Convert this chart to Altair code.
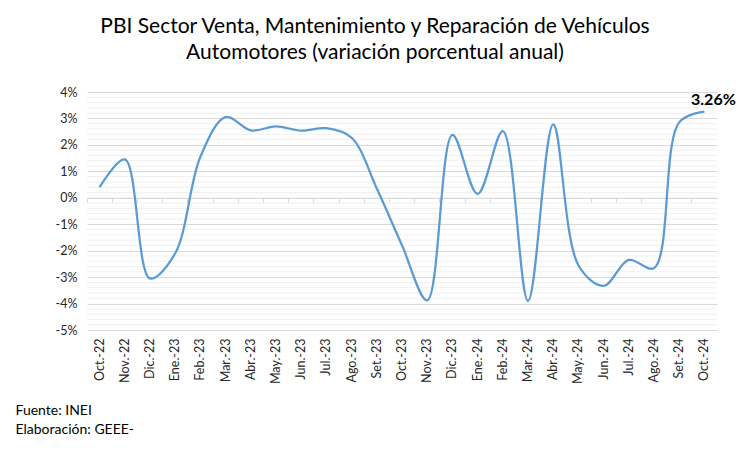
import altair as alt
import pandas as pd

months = ["Oct.-22", "Nov.-22", "Dic.-22", "Ene.-23", "Feb.-23", "Mar.-23", "Abr.-23",
          "May.-23", "Jun.-23", "Jul.-23", "Ago.-23", "Set.-23", "Oct.-23", "Nov.-23",
          "Dic.-23", "Ene.-24", "Feb.-24", "Mar.-24", "Abr.-24", "May.-24", "Jun.-24",
          "Jul.-24", "Ago.-24", "Set.-24", "Oct.-24"]
values = [0.40, 1.45, -3.05, -2.10, 1.55, 3.05, 2.55, 2.70, 2.54, 2.63, 2.27, 0.35,
          -1.80, -3.88, 2.38, 0.15, 2.52, -3.90, 2.78, -2.55, -3.33, -2.35, -2.66,
          2.85, 3.26]
major_ticks = [-5, -4, -3, -2, -1, 0, 1, 2, 3, 4]
minor_ticks = [round(-5 + 0.2 * i, 1) for i in range(46) if i % 5 != 0]

FONT = "Lato"
W, H = 630, 238
YMIN, YMAX = -5, 4

df = pd.DataFrame({"mes": months, "valor": values})
last = df.tail(1).assign(etiqueta=lambda d: d["valor"].map(lambda v: f"{v:.2f}%"))
minor_df = pd.DataFrame({"valor": minor_ticks})

yscale = alt.Scale(domain=[YMIN, YMAX], nice=False, zero=False)
xscale = alt.Scale(type="band", paddingInner=0, paddingOuter=0)
yaxis = alt.Axis(values=major_ticks, labelExpr="datum.value + '%'",
                 labelFont=FONT, labelFontSize=12.5, labelColor="#262626",
                 labelPadding=10, ticks=False, domain=False,
                 grid=True, gridColor="#d9d9d9", title=None)
Y = alt.Y("valor:Q", scale=yscale, axis=yaxis, title=None)

minor = alt.Chart(minor_df).mark_rule(color="#f0f0f0", strokeWidth=1).encode(y=Y)

line = alt.Chart(df).mark_line(
    interpolate="catmull-rom", color="#5b9bd5", strokeWidth=2.25
).encode(
    x=alt.X("mes:N", sort=months, scale=xscale,
            axis=alt.Axis(orient="bottom", labelAngle=-90, labelAlign="right",
                          labelBaseline="middle", labelPadding=8, labelFontSize=12.5,
                          labelFont=FONT, labelColor="#262626", ticks=False,
                          domain=False, grid=False,
                          title=["Fuente: INEI", "Elaboración: GEEE-"],
                          titleFont=FONT, titleFontSize=14, titleFontWeight="normal",
                          titleColor="#000000", titleAlign="left", titleAnchor="start",
                          titleBaseline="top", titleX=-72, titleY=73,
                          titleLineHeight=19)),
    y=Y,
)

zero_axis = alt.Chart(df).mark_point(opacity=0).encode(
    x=alt.X("mes:N", sort=months, scale=xscale,
            axis=alt.Axis(orient="bottom", offset=-(H * (0 - YMIN) / (YMAX - YMIN)),
                          labels=False, ticks=True, tickSize=5, bandPosition=0,
                          tickColor="#d9d9d9", domain=True, domainColor="#d9d9d9",
                          grid=False, title=None)),
    y=Y,
)

label = alt.Chart(last).mark_text(
    font=FONT, fontSize=16, fontWeight="bold", color="#000000", dx=9, dy=-12
).encode(
    x=alt.X("mes:N", sort=months, scale=xscale, axis=None),
    y=Y,
    text="etiqueta:N",
)

chart = alt.layer(minor, zero_axis, line, label).resolve_axis(
    x="independent"
).properties(
    width=W, height=H,
    padding={"left": 79, "top": 84, "right": 25, "bottom": 112},
    autosize=alt.AutoSizeParams(type="none"),
    title=alt.TitleParams(
        ["PBI Sector Venta, Mantenimiento y Reparación de Vehículos",
         "Automotores (variación porcentual anual)"],
        font=FONT, fontSize=21, fontWeight="normal", color="#000000",
        anchor="middle", dx=-27, offset=23, lineHeight=26,
    ),
).configure_view(stroke=None)

chart.save("out.html", embed_options={"renderer": "svg", "actions": False})
